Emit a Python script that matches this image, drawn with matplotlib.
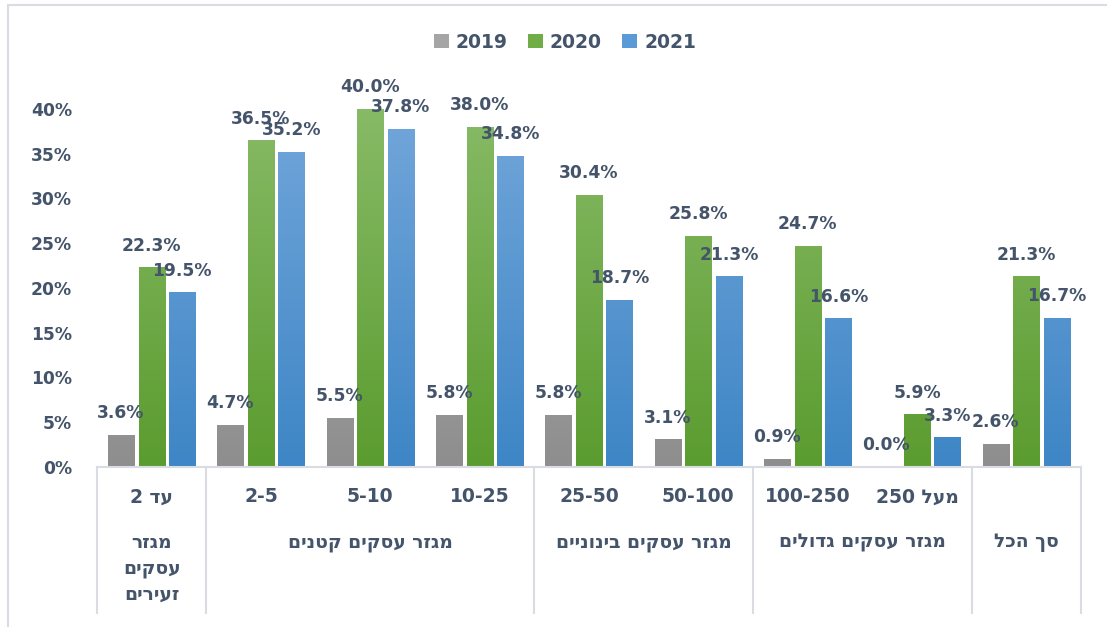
import numpy as np
import matplotlib
matplotlib.use("Agg")
import matplotlib.pyplot as plt
from matplotlib.patches import Patch, Rectangle
from matplotlib.colors import LinearSegmentedColormap

plt.rcParams['font.family'] = ['DejaVu Sans', 'Liberation Sans']
plt.rcParams['font.weight'] = 'bold'

# data
categories = ["עד 2", "2-5", "5-10", "10-25", "25-50", "50-100", "100-250", "מעל 250", ""]
groups = ["מגזר\nעסקים\nזעירים", "מגזר עסקים קטנים", "מגזר עסקים בינוניים",
          "מגזר עסקים גדולים", "סך הכל"]
group_spans = [(0, 0), (1, 3), (4, 5), (6, 7), (8, 8)]
years = ["2019", "2020", "2021"]
v2019 = [3.6, 4.7, 5.5, 5.8, 5.8, 3.1, 0.9, 0.0, 2.6]
v2020 = [22.3, 36.5, 40.0, 38.0, 30.4, 25.8, 24.7, 5.9, 21.3]
v2021 = [19.5, 35.2, 37.8, 34.8, 18.7, 21.3, 16.6, 3.3, 16.7]

txt = '#44546a'
grid_c = '#d9dde3'
grads = [('#b5b5b5', '#8e8e8e'), ('#87ba66', '#5b9c2f'), ('#72a6da', '#3e86c6')]
solid = ['#a5a5a5', '#70ad47', '#5b9bd5']


def is_heb(s):
    return any('\u0590' <= ch <= '\u05ff' for ch in s)


def vis(s):
    # matplotlib lays glyphs left to right, so put Hebrew lines in visual order
    out = []
    for line in s.split("\n"):
        if is_heb(line):
            words = [w[::-1] if is_heb(w) else w for w in line.split(" ")]
            line = " ".join(words[::-1])
        out.append(line)
    return "\n".join(out)


fig = plt.figure(figsize=(11.07, 6.27), dpi=100)
ax = fig.add_axes([97/1107, 1-467/627, (1081-97)/1107, (467-109)/627])

x = np.arange(len(categories))
w = 0.24
step = 0.28
series = [v2019, v2020, v2021]
for i, vals in enumerate(series):
    vals = np.array(vals) / 100
    bars = ax.bar(x + (i-1)*step, vals, w, color='none', edgecolor='none')
    cmap = LinearSegmentedColormap.from_list('g%d' % i, [grads[i][1], grads[i][0]])
    for b, v in zip(bars, vals):
        x0 = b.get_x()
        if v > 0:
            im = ax.imshow(np.linspace(0, 1, 100).reshape(-1, 1), cmap=cmap, aspect='auto',
                           extent=[x0, x0 + w, 0, 0.4], origin='lower', zorder=2)
            im.set_clip_path(b)
        ax.annotate(f"{v*100:.1f}%", (x0 + w/2, v), xytext=(0, 12), textcoords='offset points',
                    ha='center', va='baseline', fontsize=12.3, color=txt, fontweight='bold',
                    annotation_clip=False, zorder=5)

ax.set_xlim(-0.5, 8.5)
ax.set_ylim(0, 0.40)
ax.set_yticks(np.arange(0, 0.41, 0.05))
ax.set_yticklabels([f"{int(round(t*100))}%" for t in np.arange(0, 0.41, 0.05)],
                   fontsize=12.3, color=txt, fontweight='bold')
ax.tick_params(axis='y', length=0, pad=18)
ax.set_xticks([])
for s in ['top', 'right', 'left']:
    ax.spines[s].set_visible(False)
ax.spines['bottom'].set_color(grid_c)
ax.spines['bottom'].set_linewidth(1.5)

trans = ax.get_xaxis_transform()
for xi, c in zip(x, categories):
    ax.text(xi, -30/358, vis(c), transform=trans, ha='center', va='center',
            fontsize=13.5, color=txt, fontweight='bold')
for g, (a, b) in zip(groups, group_spans):
    ax.text((a + b)/2, -66/358, vis(g), transform=trans, ha='center', va='top',
            fontsize=13.5, color=txt, fontweight='bold', linespacing=1.45)
for sep in [-0.5, 0.5, 3.5, 5.5, 7.5, 8.5]:
    ax.plot([sep, sep], [0, -146/358], transform=trans, color=grid_c, lw=1.5, clip_on=False)

handles = [Patch(facecolor=solid[i], edgecolor='none', label=years[i]) for i in range(3)]
fig.legend(handles=handles, loc='center', bbox_to_anchor=(565/1107, 1-42/627), ncol=3,
           frameon=False, handlelength=0.8, handleheight=0.8, handletextpad=0.35,
           columnspacing=1.1, prop={'size': 13.5, 'weight': 'bold'}, labelcolor=txt)

fig.add_artist(Rectangle((8/1107, -0.1), 1.2, 1 - 5/627 + 0.1, transform=fig.transFigure,
                         facecolor='none', edgecolor=grid_c, lw=1.5))

fig.savefig("out.png", dpi=100)
